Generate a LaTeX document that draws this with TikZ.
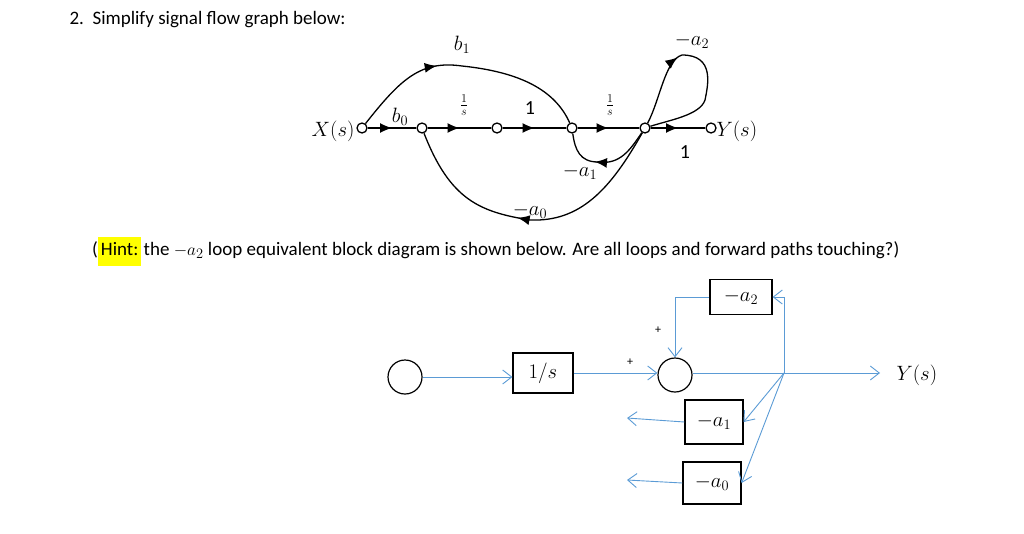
\documentclass[tikz,border=0pt]{standalone}
\usepackage{fontspec}
\setmainfont{Carlito}
\usetikzlibrary{arrows.meta,decorations.markings}
\definecolor{bl}{RGB}{91,155,213}
\definecolor{hl}{RGB}{255,255,0}
\begin{document}
\begin{tikzpicture}[x=1pt,y=-1pt,
  sn/.style={circle,draw,line width=1.3pt,fill=white,inner sep=0pt,minimum size=10pt},
  br/.style={line width=1.3pt,decoration={markings,mark=at position #1 with {\arrow{Latex[length=12pt,width=10pt]}}},postaction=decorate},
  br/.default=0.5,
  lb/.style={font=\fontsize{20}{24}\selectfont},
  bx/.style={draw,line width=1.2pt,minimum width=60pt,minimum height=40pt,font=\fontsize{20}{24}\selectfont},
  bc/.style={circle,draw,line width=1.2pt,minimum size=34pt,inner sep=0pt},
  bw/.style={bl,line width=0.9pt,-{Straight Barb[open,length=9pt,width=14pt]}}]
\useasboundingbox (0,0) rectangle (1024,533);
\node[anchor=west,font=\fontsize{19}{23}\selectfont] (title) at (66,20) {2.\ \ Simplify signal flow graph below:};
% SFG
\node[sn] (x) at (362,128) {};
\node[sn] (n1) at (422,128) {};
\node[sn] (n2) at (497,128) {};
\node[sn] (n3) at (572,128) {};
\node[sn] (n4) at (645,128) {};
\node[sn] (y) at (711,128) {};
\node[lb,anchor=east] (xl) at (358,131) {$X(s)$};
\node[lb,anchor=west] (yl) at (713,131) {$Y(s)$};
\draw[br] (x) -- (n1);
\draw[br] (n1) -- (n2);
\draw[br] (n2) -- (n3);
\draw[br] (n3) -- (n4);
\draw[br] (n4) -- (y);
\draw[br=0.38] (x) .. controls (400,80) and (420,60) .. (462,66) .. controls (520,72) and (555,90) .. (n3);
\draw[br=0.55] (n4) .. controls (610,190) and (580,222) .. (530,220) .. controls (480,212) and (450,200) .. (n1);
\draw[br=0.6] (n4) .. controls (630,150) and (620,165) .. (598,162) .. controls (580,162) and (575,150) .. (n3);
\draw[br=0.36] (n4) .. controls (660,100) and (665,60) .. (682,55) .. controls (715,55) and (708,85) .. (705,100) .. controls (700,115) and (670,120) .. (n4);
\node[lb] (lb0) at (400,117) {$b_0$};
\node[lb] (lb1) at (462,45) {$b_1$};
\node[lb,font=\fontsize{17}{20}\selectfont] (ls1) at (464,105) {$\frac{1}{s}$};
\node[lb] (l1) at (530,108) {1};
\node[lb,font=\fontsize{17}{20}\selectfont] (ls2) at (610,105) {$\frac{1}{s}$};
\node[lb] (l2) at (685,152) {1};
\node[lb] (la0) at (530,211) {$-a_0$};
\node[lb] (la1) at (580,172) {$-a_1$};
\node[lb] (la2) at (692,41) {$-a_2$};
% hint
\node[anchor=west,font=\fontsize{19}{23}\selectfont,inner sep=0pt] (hint) at (92,251) {(\colorbox{hl}{\strut Hint:}\hspace{-2pt} the $-a_2$ loop equivalent block diagram is shown below. Are all loops and forward paths touching?)};
% block diagram
\node[bc] (c1) at (405,377) {};
\node[bx] (bs) at (543,373) {$1/s$};
\node[bc] (sum) at (675,375) {};
\node[bx,minimum width=62pt,minimum height=35pt] (b2) at (741,297) {$-a_2$};
\node[bx,minimum width=58pt,minimum height=44pt] (b1) at (714,422) {$-a_1$};
\node[bx,minimum width=58pt,minimum height=42pt] (b0) at (712,483) {$-a_0$};
\coordinate (bp) at (784,373);
\coordinate (yo) at (880,373);
\node[lb,anchor=west] (yl2) at (893,375) {$Y(s)$};
\coordinate (l1) at (627,418);
\coordinate (l0) at (627,480);
\draw[bw] (c1) -- (bs.west|-c1);
\draw[bw] (bs) -- (sum.west|-bs);
\draw[bw] (sum.east|-bp) -- (yo);
\draw[bw] (bp) |- (b2.east);
\draw[bw] (b2.west) -| (sum.north);
\draw[bw] (bp) -- (b1.east);
\draw[bw] (bp) -- (b0.east);
\draw[bw] (b1.west) -- (l1);
\draw[bw] (b0.west) -- (l0);
\node[font=\large] (p1) at (658,330) {+};
\node[font=\large] (p2) at (630,362) {+};
\end{tikzpicture}
\end{document}
